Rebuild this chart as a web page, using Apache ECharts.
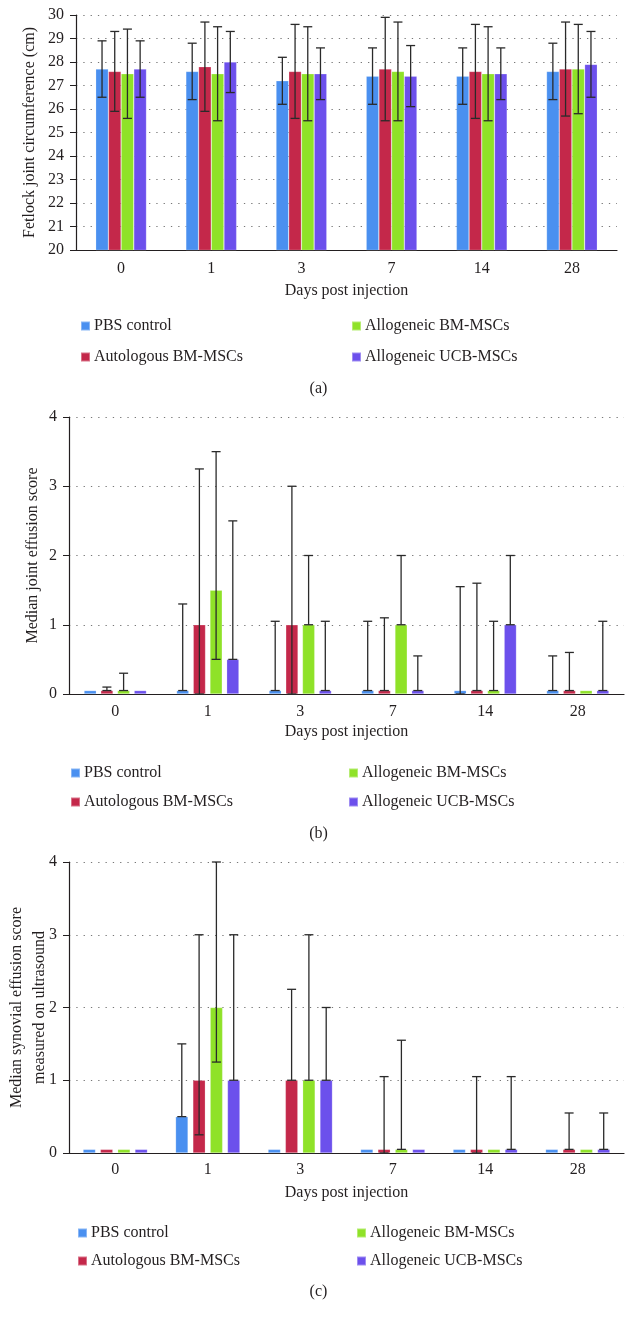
<!DOCTYPE html>
<html>
<head>
<meta charset="utf-8">
<script src="https://cdn.jsdelivr.net/npm/echarts@6/dist/echarts.min.js"></script>
<style>html,body{margin:0;padding:0;background:#fff}#c{width:637px;height:1324px}</style>
</head>
<body>
<div id="c"></div>
<script>
// ---------- DATA ----------
const days = ['0', '1', '3', '7', '14', '28'];
const groups = ['PBS control', 'Autologous BM-MSCs', 'Allogeneic BM-MSCs', 'Allogeneic UCB-MSCs'];

// (a) Fetlock joint circumference (cm): mean, lower, upper
const circPBS      = [27.7, 27.6, 27.2, 27.4, 27.4, 27.6];
const circPBSLow   = [26.5, 26.4, 26.2, 26.2, 26.2, 26.4];
const circPBSHigh  = [28.9, 28.8, 28.2, 28.6, 28.6, 28.8];
const circAuto     = [27.6, 27.8, 27.6, 27.7, 27.6, 27.7];
const circAutoLow  = [25.9, 25.9, 25.6, 25.5, 25.6, 25.7];
const circAutoHigh = [29.3, 29.7, 29.6, 29.9, 29.6, 29.7];
const circBM       = [27.5, 27.5, 27.5, 27.6, 27.5, 27.7];
const circBMLow    = [25.6, 25.5, 25.5, 25.5, 25.5, 25.8];
const circBMHigh   = [29.4, 29.5, 29.5, 29.7, 29.5, 29.6];
const circUCB      = [27.7, 28.0, 27.5, 27.4, 27.5, 27.9];
const circUCBLow   = [26.5, 26.7, 26.4, 26.1, 26.4, 26.5];
const circUCBHigh  = [28.9, 29.3, 28.6, 28.7, 28.6, 29.3];

// (b) Median joint effusion score: median, lower, upper
const effPBS      = [0.05, 0.05, 0.05, 0.05, 0.05, 0.05];
const effPBSLow   = [0.05, 0.05, 0.05, 0.05, 0, 0.05];
const effPBSHigh  = [0.05, 1.3, 1.05, 1.05, 1.55, 0.55];
const effAuto     = [0.05, 1, 1, 0.05, 0.05, 0.05];
const effAutoLow  = [0.05, 0, 0, 0.05, 0.05, 0.05];
const effAutoHigh = [0.1, 3.25, 3, 1.1, 1.6, 0.6];
const effBM       = [0.05, 1.5, 1, 1, 0.05, 0.05];
const effBMLow    = [0.05, 0.5, 1, 1, 0.05, 0.05];
const effBMHigh   = [0.3, 3.5, 2, 2, 1.05, 0.05];
const effUCB      = [0.05, 0.5, 0.05, 0.05, 1, 0.05];
const effUCBLow   = [0.05, 0.5, 0.05, 0.05, 1, 0.05];
const effUCBHigh  = [0.05, 2.5, 1.05, 0.55, 2, 1.05];

// (c) Median synovial effusion score on ultrasound: median, lower, upper
const usPBS      = [0.05, 0.5, 0.05, 0.05, 0.05, 0.05];
const usPBSLow   = [0.05, 0.5, 0.05, 0.05, 0.05, 0.05];
const usPBSHigh  = [0.05, 1.5, 0.05, 0.05, 0.05, 0.05];
const usAuto     = [0.05, 1, 1, 0.05, 0.05, 0.05];
const usAutoLow  = [0.05, 0.25, 1, 0, 0, 0.05];
const usAutoHigh = [0.05, 3, 2.25, 1.05, 1.05, 0.55];
const usBM       = [0.05, 2, 1, 0.05, 0.05, 0.05];
const usBMLow    = [0.05, 1.25, 1, 0.05, 0.05, 0.05];
const usBMHigh   = [0.05, 4, 3, 1.55, 0.05, 0.05];
const usUCB      = [0.05, 1, 1, 0.05, 0.05, 0.05];
const usUCBLow   = [0.05, 1, 1, 0.05, 0.05, 0.05];
const usUCBHigh  = [0.05, 3, 2, 0.05, 1.05, 0.55];

const yTitles = ['Fetlock joint circumference (cm)', 'Median joint effusion score',
  'Median synovial effusion score\nmeasured on ultrasound'];
const xTitle = 'Days post injection';
const panelLabels = ['(a)', '(b)', '(c)'];

// ---------- STYLE ----------
const colors = ['#4a90f0', '#c4284a', '#8fe228', '#6c50ec'];
const FONT = '"Liberation Serif", "DejaVu Serif", serif';
const TXT = '#231f20';
const FS = 16;

const panels = [
  { vals: [circPBS, circAuto, circBM, circUCB], lows: [circPBSLow, circAutoLow, circBMLow, circUCBLow],
    highs: [circPBSHigh, circAutoHigh, circBMHigh, circUCBHigh],
    grid: { left: 76, top: 15, width: 541, height: 235 }, min: 20, max: 30, interval: 1,
    barWidth: 12.7, gapPx: 0, nameGapY: 37, nameGapX: 33, labelMargin: 11,
    legendLeft: [75, 346], legendTop: 313, legendGap: 15, labelY: 390, yLineH: 18 },
  { vals: [effPBS, effAuto, effBM, effUCB], lows: [effPBSLow, effAutoLow, effBMLow, effUCBLow],
    highs: [effPBSHigh, effAutoHigh, effBMHigh, effUCBHigh],
    grid: { left: 69, top: 417, width: 555, height: 277 }, min: 0, max: 4, interval: 1,
    barWidth: 12.3, gapPx: 4.4, nameGapY: 27, nameGapX: 30, labelMargin: 10,
    legendLeft: [65, 343], legendTop: 760, legendGap: 13, labelY: 835, yLineH: 18 },
  { vals: [usPBS, usAuto, usBM, usUCB], lows: [usPBSLow, usAutoLow, usBMLow, usUCBLow],
    highs: [usPBSHigh, usAutoHigh, usBMHigh, usUCBHigh],
    grid: { left: 69, top: 862, width: 555, height: 291 }, min: 0, max: 4, interval: 1,
    barWidth: 12.5, gapPx: 4.8, nameGapY: 18, nameGapX: 32, labelMargin: 9,
    legendLeft: [72, 351], legendTop: 1220, legendGap: 12, labelY: 1293, yLineH: 23 }
];

const grid = [], xAxis = [], yAxis = [], series = [], legend = [], graphic = [];

panels.forEach((p, pi) => {
  grid.push(Object.assign({ outerBoundsMode: 'none', containLabel: false }, p.grid));
  xAxis.push({
    gridIndex: pi, type: 'category', data: days,
    axisLine: { lineStyle: { color: '#231f20', width: 1.2 } },
    axisTick: { alignWithLabel: true, length: 5, lineStyle: { color: '#231f20' } },
    axisLabel: { fontFamily: FONT, fontSize: FS, color: TXT, margin: p.labelMargin },
    name: xTitle, nameLocation: 'middle', nameGap: p.nameGapX, nameMoveOverlap: false,
    nameTextStyle: { fontFamily: FONT, fontSize: FS, color: TXT }
  });
  yAxis.push({
    gridIndex: pi, type: 'value', min: p.min, max: p.max, interval: p.interval,
    axisLine: { show: true, lineStyle: { color: '#231f20', width: 1.2 } },
    axisTick: { show: true, length: 6, lineStyle: { color: '#231f20' } },
    axisLabel: { fontFamily: FONT, fontSize: FS, color: TXT, margin: 12 },
    splitLine: { show: true, lineStyle: { color: '#777', width: 1, type: [1.3, 6] } },
    name: yTitles[pi], nameLocation: 'middle', nameGap: p.nameGapY, nameRotate: 90, nameMoveOverlap: false,
    nameTextStyle: { fontFamily: FONT, fontSize: FS, color: TXT, lineHeight: p.yLineH, align: 'center' }
  });
  const step = p.barWidth + p.gapPx;
  groups.forEach((g, gi) => {
    series.push({
      name: g, type: 'bar', xAxisIndex: pi, yAxisIndex: pi,
      data: p.vals[gi], barWidth: p.barWidth,
      barGap: (p.gapPx / p.barWidth * 100).toFixed(1) + '%',
      itemStyle: { color: colors[gi], borderColor: 'rgba(255,255,255,0.35)', borderWidth: 0.6 },
      silent: true, z: 2
    });
  });
  // error bars
  const errData = [];
  groups.forEach((g, gi) => {
    days.forEach((d, ci) => {
      errData.push([ci, p.lows[gi][ci], p.highs[gi][ci], gi]);
    });
  });
  series.push({
    type: 'custom', xAxisIndex: pi, yAxisIndex: pi, z: 5, silent: true,
    data: errData,
    renderItem: function (params, api) {
      const ci = api.value(0), lo = api.value(1), hi = api.value(2), gi = api.value(3);
      if (!(hi > lo)) return null;
      const x = api.coord([ci, lo])[0] + (gi - 1.5) * step;
      const yl = api.coord([ci, lo])[1];
      const yh = api.coord([ci, hi])[1];
      const cw = 4.5;
      const st = { stroke: '#2a2a2a', lineWidth: 1.3 };
      return {
        type: 'group',
        children: [
          { type: 'line', shape: { x1: x, y1: yl, x2: x, y2: yh }, style: st },
          { type: 'line', shape: { x1: x - cw, y1: yh, x2: x + cw, y2: yh }, style: st },
          { type: 'line', shape: { x1: x - cw, y1: yl, x2: x + cw, y2: yl }, style: st }
        ]
      };
    }
  });
  // legends: two columns
  [[groups[0], groups[1]], [groups[2], groups[3]]].forEach((items, li) => {
    legend.push({
      orient: 'vertical', left: p.legendLeft[li], top: p.legendTop,
      data: items, itemWidth: 9, itemHeight: 9, itemGap: p.legendGap,
      icon: 'rect', selectedMode: false,
      textStyle: { fontFamily: FONT, fontSize: FS, color: TXT, lineHeight: 16, padding: [0, 0, 0, -1] }
    });
  });
  graphic.push({
    type: 'text', left: 'center', top: p.labelY - 9,
    style: { text: panelLabels[pi], font: FS + 'px ' + FONT, fill: TXT }
  });
});

const chart = echarts.init(document.getElementById('c'), null, { renderer: 'canvas' });
chart.setOption({
  animation: false, backgroundColor: '#fff',
  grid, xAxis, yAxis, series, legend, graphic
});
</script>
</body>
</html>
